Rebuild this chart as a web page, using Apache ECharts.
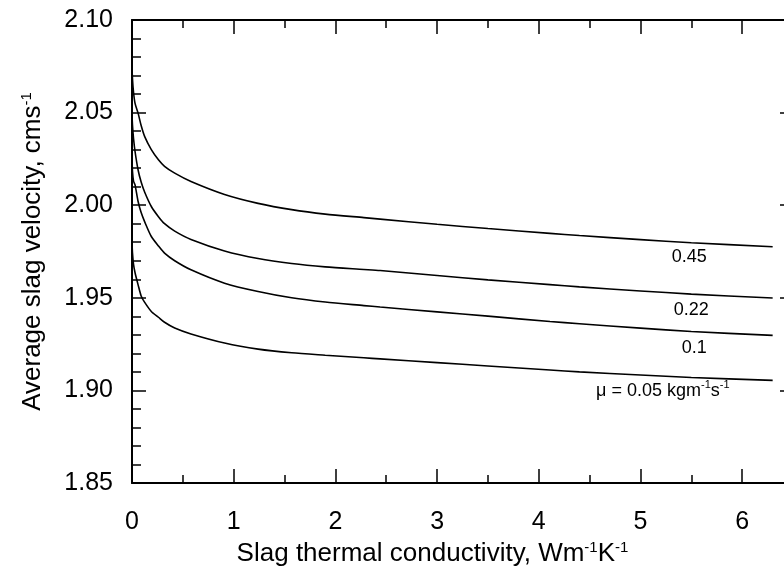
<!DOCTYPE html>
<html>
<head>
<meta charset="utf-8">
<script src="https://cdn.jsdelivr.net/npm/echarts@6/dist/echarts.min.js"></script>
<style>
  html, body { margin: 0; padding: 0; background: #fff; }
  #main { width: 784px; height: 571px; }
</style>
</head>
<body>
<div id="main"></div>
<script>
// conductivity values (Wm-1K-1)
var kVals = [0, 0.005, 0.015, 0.03, 0.06, 0.09, 0.125, 0.19, 0.26, 0.32, 0.42, 0.58, 0.91,
    1.24, 1.57, 1.9, 2.28, 2.44, 3.0, 3.5, 4.11, 4.4, 5.0, 5.5, 6.3];

// average slag velocity (cm/s) per viscosity
var v045 = [2.0748, 2.068, 2.061, 2.055, 2.0497, 2.043, 2.037, 2.030, 2.0245, 2.021, 2.0173, 2.0128, 2.0058,
    2.0010, 1.9976, 1.9952, 1.9933, 1.9925, 1.9897, 1.9874, 1.9848, 1.9836, 1.9814, 1.9797, 1.9776];
var v022 = [2.049, 2.043, 2.036, 2.029, 2.019, 2.0125, 2.007, 1.9993, 1.9938, 1.990, 1.986, 1.9815, 1.9753,
    1.9712, 1.9685, 1.9667, 1.9653, 1.9647, 1.9620, 1.9597, 1.9571, 1.9559, 1.9537, 1.9520, 1.9499];
var v010 = [2.0245, 2.018, 2.013, 2.011, 2.002, 1.996, 1.991, 1.9831, 1.978, 1.9741, 1.970, 1.9651, 1.9579,
    1.9534, 1.9500, 1.9477, 1.9458, 1.9450, 1.9424, 1.9401, 1.9372, 1.9360, 1.9336, 1.9318, 1.9297];
var v005 = [1.9798, 1.974, 1.968, 1.9635, 1.957, 1.951, 1.9475, 1.9426, 1.9395, 1.9368, 1.9337, 1.9305, 1.9256,
    1.9223, 1.9203, 1.9190, 1.9176, 1.9170, 1.9150, 1.9132, 1.9110, 1.9100, 1.9083, 1.9070, 1.9054];

// curve labels and where they sit (data units)
var curveLabels = ['0.45', '0.22', '0.1', '{n|\u03bc = 0.05 kgm}{s|-1}{n|s}{s|-1}'];
var labelPos = [[5.48, 1.9721], [5.50, 1.9435], [5.53, 1.9230], [5.22, 1.8998]];

var allSeries = [v045, v022, v010, v005];

function pairs(ys) {
    var out = [];
    for (var i = 0; i < kVals.length; i++) {
        out.push([kVals[i], ys[i]]);
    }
    return out;
}

var font = 'Liberation Sans, Arial, sans-serif';

var series = [];
for (var j = 0; j < allSeries.length; j++) {
    series.push({
        type: 'line',
        data: pairs(allSeries[j]),
        showSymbol: false,
        smooth: 0.25,
        lineStyle: { color: '#000', width: 1.6 },
        silent: true,
        markPoint: {
            symbol: 'circle',
            symbolSize: 0,
            label: {
                show: true,
                position: 'inside',
                color: '#000',
                fontFamily: font,
                fontSize: 18,
                formatter: curveLabels[j],
                rich: {
                    n: { fontSize: 18, fontFamily: font, color: '#000', lineHeight: 22 },
                    s: { fontSize: 11, fontFamily: font, color: '#000', lineHeight: 22, verticalAlign: 'top', padding: [0, 0, 7, 0] }
                }
            },
            data: [{ coord: labelPos[j] }]
        }
    });
}

var myChart = echarts.init(document.getElementById('main'));

var option = {
    animation: false,
    backgroundColor: '#fff',
    grid: {
        left: 132,
        top: 20,
        width: 661,
        height: 463,
        outerBoundsMode: 'none',
        containLabel: false
    },
    xAxis: [
        {
            type: 'value',
            min: 0,
            max: 6.5,
            interval: 1,
            name: 'Slag thermal conductivity, Wm{s|-1}K{s|-1}',
            nameLocation: 'middle',
            nameGap: 56,
            nameTextStyle: {
                color: '#000',
                fontFamily: font,
                fontSize: 26,
                padding: [0, 60, 0, 0],
                rich: {
                    s: { fontSize: 15, fontFamily: font, color: '#000', verticalAlign: 'top', padding: [0, 0, 12, 0] }
                }
            },
            axisLine: { show: true, onZero: false, lineStyle: { color: '#000', width: 2 } },
            axisTick: { show: true, inside: true, length: 14, lineStyle: { color: '#000', width: 1.5 } },
            minorTick: { show: true, splitNumber: 2, length: 8, lineStyle: { color: '#000', width: 1.5 } },
            axisLabel: {
                color: '#000',
                fontFamily: font,
                fontSize: 25,
                margin: 27,
                showMaxLabel: false,
                formatter: function (v) { return v % 1 === 0 ? String(v) : ''; }
            },
            splitLine: { show: false }
        },
        {
            type: 'value',
            position: 'top',
            min: 0,
            max: 6.5,
            interval: 1,
            axisLine: { show: true, onZero: false, lineStyle: { color: '#000', width: 2 } },
            axisTick: { show: true, inside: true, length: 14, lineStyle: { color: '#000', width: 1.5 } },
            minorTick: { show: true, splitNumber: 2, length: 8, lineStyle: { color: '#000', width: 1.5 } },
            axisLabel: { show: false },
            splitLine: { show: false }
        }
    ],
    yAxis: [
        {
            type: 'value',
            min: 1.85,
            max: 2.10,
            interval: 0.05,
            name: 'Average slag velocity, cms{s|-1}',
            nameLocation: 'middle',
            nameGap: 86,
            nameTextStyle: {
                color: '#000',
                fontFamily: font,
                fontSize: 26,
                rich: {
                    s: { fontSize: 15, fontFamily: font, color: '#000', verticalAlign: 'top', padding: [0, 0, 12, 0] }
                }
            },
            axisLine: { show: true, onZero: false, lineStyle: { color: '#000', width: 2 } },
            axisTick: { show: true, inside: true, length: 14, lineStyle: { color: '#000', width: 1.5 } },
            minorTick: { show: true, splitNumber: 5, length: 9, lineStyle: { color: '#000', width: 1.5 } },
            axisLabel: {
                color: '#000',
                fontFamily: font,
                fontSize: 25,
                margin: 19,
                formatter: function (v) { return v.toFixed(2); }
            },
            splitLine: { show: false }
        },
        {
            type: 'value',
            position: 'right',
            min: 1.85,
            max: 2.10,
            interval: 0.05,
            axisLine: { show: true, onZero: false, lineStyle: { color: '#000', width: 2 } },
            axisTick: { show: true, inside: true, length: 13, lineStyle: { color: '#000', width: 1.5 } },
            axisLabel: { show: false },
            splitLine: { show: false }
        }
    ],
    series: series
};

myChart.setOption(option);
</script>
</body>
</html>
